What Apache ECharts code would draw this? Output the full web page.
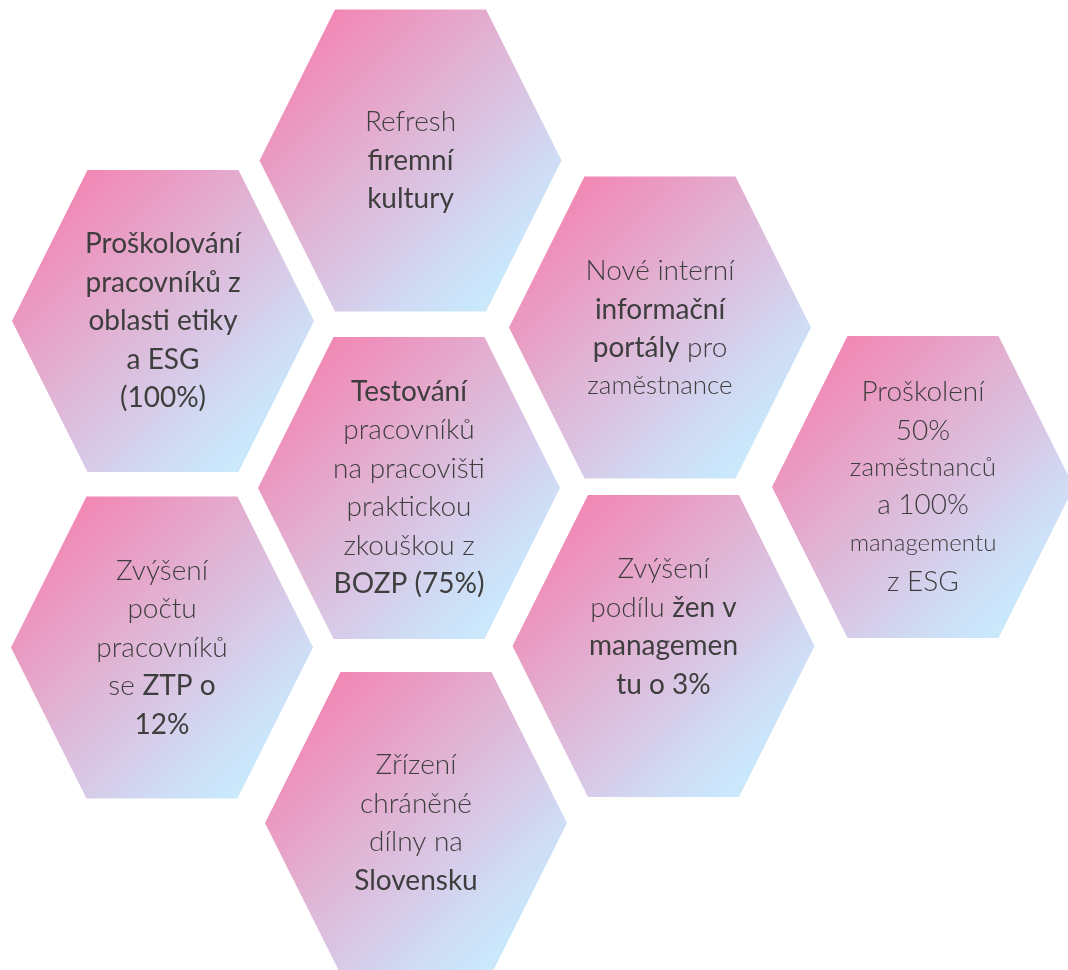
<!DOCTYPE html>
<html>
<head>
<meta charset="utf-8">
<title>ESG cíle</title>
<script src="https://cdn.jsdelivr.net/npm/echarts@6/dist/echarts.min.js"></script>
<style>
  html, body { margin: 0; padding: 0; background: #ffffff; }
  #chart { width: 1068px; height: 970px; }
</style>
</head>
<body>
<div id="chart"></div>
<script>
// texty v šestiúhelnících ({l|..} = light, {b|..} = zvýrazněno, {s|..}/{xs|..} = menší písmo)
const labels = [
  '{l|Refresh}\n{b|firemní}\n{b|kultury}',
  '{b|Proškolování}\n{b|pracovníků z}\n{b|oblasti etiky}\n{b|a ESG}\n{b|(100%)}',
  '{l|Nové interní}\n{b|informační}\n{b|portály}{l| pro}\n{s|zaměstnance}',
  '{b|Testování}\n{l|pracovníků}\n{l|na pracovišti}\n{l|praktickou}\n{l|zkouškou z}\n{b|BOZP (75%)}',
  '{l|Proškolení}\n{l|50%}\n{s|zaměstnanců}\n{l|a 100%}\n{xs|managementu}\n{l|z ESG}',
  '{l|Zvýšení}\n{l|počtu}\n{l|pracovníků}\n{l|se }{b|ZTP o}\n{b|12%}',
  '{l|Zvýšení}\n{l|podílu }{b|žen v}\n{b|managemen}\n{b|tu o 3%}\n{l| }',
  '{l|Zřízení}\n{l|chráněné}\n{l|dílny na}\n{b|Slovensku}'
];
// středy šestiúhelníků (osa x 0..1068, osa y 0..970 shora dolů)
const centerX = [410.5, 163, 660, 409, 923, 162, 663.5, 416];
const centerY = [160.5, 321, 327.5, 488, 487, 647.5, 646, 823];

const HEX = 151; // poloviční šířka / výška šestiúhelníku v jednotkách os
const TEXT = '#3e3e3e';
const FONT = 'Lato, "Open Sans", sans-serif';

let myChart = echarts.init(document.getElementById('chart'));

let data = labels.map(function (t, i) {
  return [centerX[i], centerY[i], t];
});

let option = {
  animation: false,
  grid: { left: 0, right: 0, top: 0, bottom: 0 },
  xAxis: { type: 'value', min: 0, max: 1068, show: false },
  yAxis: { type: 'value', min: 0, max: 970, inverse: true, show: false },
  series: [
    {
      type: 'custom',
      coordinateSystem: 'cartesian2d',
      data: data,
      renderItem: function (params, api) {
        let c = api.coord([api.value(0), api.value(1)]);
        let s = api.size([HEX, HEX]);
        let w = s[0], h = s[1];
        let pts = [
          [c[0] - w, c[1]],
          [c[0] - w / 2, c[1] - h],
          [c[0] + w / 2, c[1] - h],
          [c[0] + w, c[1]],
          [c[0] + w / 2, c[1] + h],
          [c[0] - w / 2, c[1] + h]
        ];
        return {
          type: 'group',
          children: [
            {
              type: 'polygon',
              shape: { points: pts },
              style: {
                fill: new echarts.graphic.LinearGradient(0, 0, 1, 1, [
                  { offset: 0, color: '#F877A6' },
                  { offset: 0.2, color: '#EE91BC' },
                  { offset: 0.45, color: '#E0B5D5' },
                  { offset: 0.6, color: '#D8C8E6' },
                  { offset: 0.72, color: '#D0DAF3' },
                  { offset: 0.85, color: '#C9E8FC' },
                  { offset: 1, color: '#E0ECEA' }
                ])
              }
            },
            {
              type: 'text',
              style: {
                x: c[0],
                y: c[1],
                text: labels[params.dataIndex],
                align: 'center',
                verticalAlign: 'middle',
                fill: TEXT,
                rich: {
                  l: { fontFamily: FONT, fontSize: 28, fontWeight: 300, lineHeight: 38.5, fill: TEXT, align: 'center' },
                  b: { fontFamily: FONT, fontSize: 28, fontWeight: 400, lineHeight: 38.5, fill: TEXT, align: 'center' },
                  s: { fontFamily: FONT, fontSize: 26, fontWeight: 300, lineHeight: 36, fill: TEXT, align: 'center' },
                  xs: { fontFamily: FONT, fontSize: 24, fontWeight: 300, lineHeight: 38.5, fill: TEXT, align: 'center' }
                }
              }
            }
          ]
        };
      }
    }
  ]
};

myChart.setOption(option);
</script>
</body>
</html>
